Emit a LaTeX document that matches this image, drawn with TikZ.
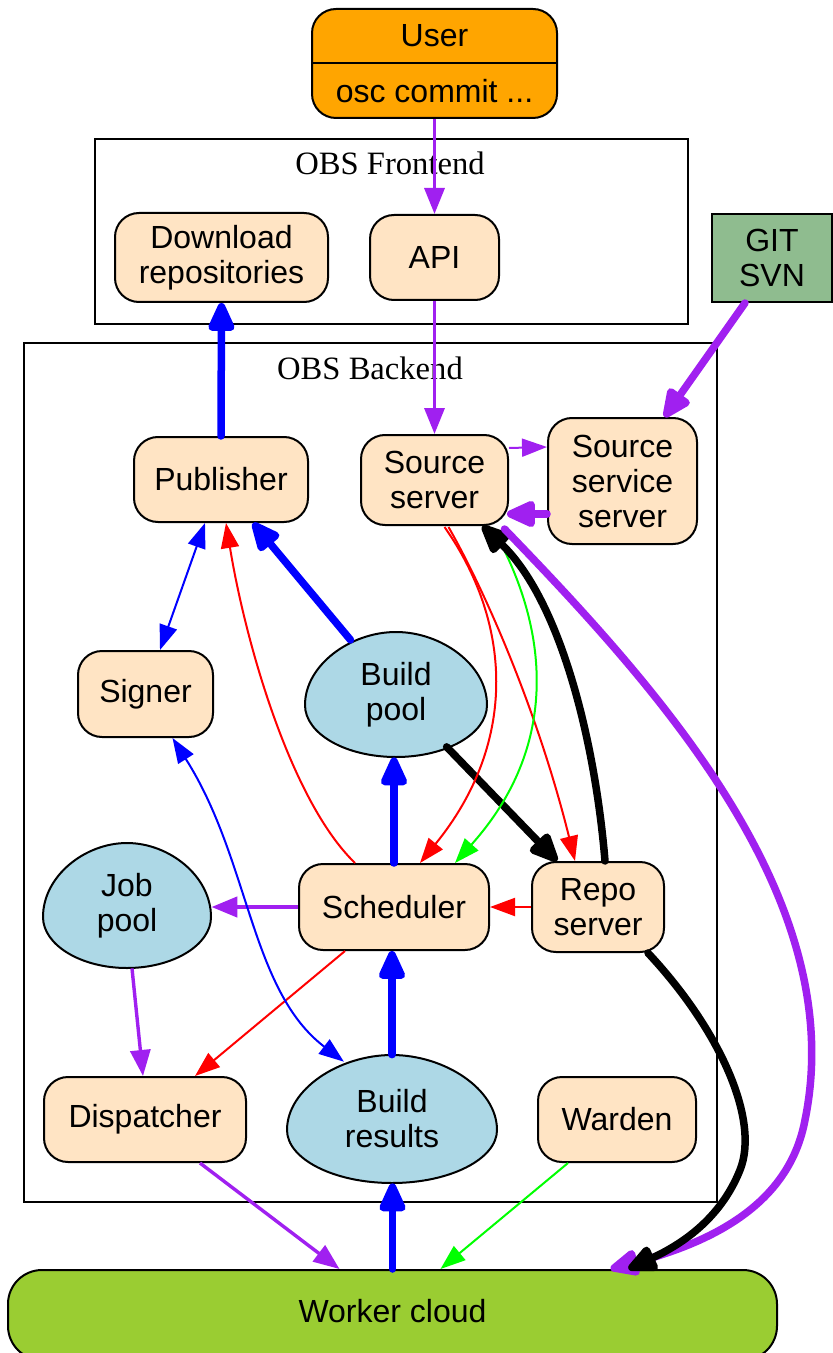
\documentclass[tikz,border=0pt]{standalone}
\usepackage{fontspec}
\setmainfont{Liberation Sans}
\newfontfamily\clusterfont{Liberation Serif}
\usetikzlibrary{arrows.meta,calc,shapes.geometric}
\definecolor{bisque}{HTML}{FFE4C4}
\definecolor{gvorange}{HTML}{FFA500}
\definecolor{gvsea}{HTML}{8FBC8F}
\definecolor{gvlblue}{HTML}{ADD8E6}
\definecolor{gvygreen}{HTML}{9ACD32}
\definecolor{gvpurple}{HTML}{A020F0}
\definecolor{gvblue}{HTML}{0000FF}
\definecolor{gvred}{HTML}{FF0000}
\definecolor{gvgreen}{HTML}{00FF00}
\begin{document}
\begin{tikzpicture}[x=0.5pt,y=-0.5pt,
  lbl/.style={font=\fontsize{16}{17.5}\selectfont, align=center, inner sep=0pt},
  box/.style={lbl, draw, line width=1pt, rounded corners=12pt, fill=bisque},
  eggnode/.style={lbl, ellipse, draw=none},
  eggfill/.style={draw, line width=1pt, fill=gvlblue},
  cluster/.style={draw, line width=0.9pt},
  clab/.style={font=\clusterfont\fontsize{16.3}{18}\selectfont, inner sep=0pt},
  thinE/.style={line width=1pt, -{Triangle[length=12.5pt,width=9pt]}},
  thinBoth/.style={line width=1pt, {Triangle[length=12.5pt,width=9pt]}-{Triangle[length=12.5pt,width=9pt]}},
  medE/.style={line width=1.7pt, -{Triangle[length=13pt,width=10pt]}},
  thickE/.style={line width=3.75pt, line cap=round, -{Triangle[length=17pt,width=14pt,round]}},
]
\useasboundingbox (0,0) rectangle (832,1353);

% clusters
\draw[cluster] (95,139) rectangle (688,324);
\node[clab] (felab) at (390,163) {OBS Frontend};
\draw[cluster] (24,343) rectangle (717,1202);
\node[clab] (belab) at (370,368) {OBS Backend};

% user
\node[box, fill=gvorange, minimum width=122.5pt, minimum height=54.5pt] (user) at (434.5,63.5) {};
\draw[line width=1pt] (user.west) -- (user.east);
\node[lbl] (usert) at (434.5,36) {User};
\node[lbl] (userb) at (434.5,91) {osc commit ...};

% frontend
\node[box, minimum width=106.5pt, minimum height=44.5pt] (dl) at (221.5,257.5) {Download\\repositories};
\node[box, minimum width=64.5pt, minimum height=42.5pt] (api) at (434.5,257.5) {API};
\node[lbl, draw, line width=1pt, fill=gvsea, minimum width=60pt, minimum height=44pt] (git) at (772,258) {GIT\\SVN};

% backend boxes
\node[box, minimum width=87pt, minimum height=42.5pt] (pub) at (221,479.5) {Publisher};
\node[box, minimum width=73.5pt, minimum height=45pt] (src) at (434.5,480) {Source\\server};
\node[box, minimum width=74.5pt, minimum height=63pt] (sss) at (622.5,481) {Source\\service\\server};
\node[box, minimum width=67.5pt, minimum height=43pt] (signer) at (145.5,694) {Signer};
\node[box, minimum width=95pt, minimum height=43pt] (sched) at (394,907) {Scheduler};
\node[box, minimum width=66pt, minimum height=45pt] (repo) at (598,907) {Repo\\server};
\node[box, minimum width=101pt, minimum height=42.5pt] (disp) at (145,1119.5) {Dispatcher};
\node[box, minimum width=79pt, minimum height=42.5pt] (warden) at (617,1119.5) {Warden};

% eggs
\path[eggfill] (396,632) .. controls (441.5,632) and (487,665) .. (487,705)
  .. controls (487,734) and (446,757) .. (396,757)
  .. controls (346,757) and (305,734) .. (305,705)
  .. controls (305,665) and (350.5,632) .. (396,632) -- cycle;
\node[eggnode, minimum width=91pt, minimum height=62.5pt] (bpool) at (396,694.5) {Build\\pool};

\path[eggfill] (127,843) .. controls (169,843) and (211,876) .. (211,917)
  .. controls (211,945) and (173,968) .. (127,968)
  .. controls (81,968) and (43,945) .. (43,917)
  .. controls (43,876) and (85,843) .. (127,843) -- cycle;
\node[eggnode, minimum width=84pt, minimum height=62.5pt] (jpool) at (127,905.5) {Job\\pool};

\path[eggfill] (392,1055) .. controls (444.5,1055) and (497,1089) .. (497,1130)
  .. controls (497,1159) and (450,1183) .. (392,1183)
  .. controls (334,1183) and (287,1159) .. (287,1130)
  .. controls (287,1089) and (339.5,1055) .. (392,1055) -- cycle;
\node[eggnode, minimum width=105pt, minimum height=64pt] (bres) at (392,1119) {Build\\results};

% worker cloud
\node[box, fill=gvygreen, rounded corners=17pt, minimum width=384.5pt, minimum height=45pt, text depth=4pt] (worker) at (392.5,1315) {Worker cloud};

% edges
\draw[medE, gvpurple] (user.south) -- (api.north);
\draw[medE, gvpurple] (api.south) -- (src.north);
\draw[thickE, gvpurple] ($(git.south)+(-27,0)$) -- ($(sss.north)+(42,0)$);
\draw[thinE, gvpurple] ($(src.east)+(0,-32)$) -- ($(sss.west)+(0,-34)$);
\draw[thickE, gvpurple] ($(sss.west)+(0,33)$) -- ($(src.east)+(-2,34)$);

\draw[thickE, gvblue] (pub.north) -- (dl.south);
\draw[thinBoth, gvblue] ($(signer.north)+(14.5,0)$) -- ($(pub.south)+(-16,0)$);
\draw[thickE, gvblue] (bpool) -- ($(pub.south)+(32,0)$);
\draw[thinE, gvred] ($(sched.north)+(-39,0)$) .. controls (290,800) and (245,640) .. ($(pub.south)+(5,0)$);
\draw[thickE, gvblue] (sched.north) -- (sched.north |- bpool.south);
\draw[thickE, black] (bpool) -- ($(repo.north)+(-41,0)$);

\draw[thinE, gvred] ($(src.south)+(10,1)$) .. controls (510,620) and (520,740) .. ($(sched.north)+(26,0)$);
\draw[thinE, gvred] ($(src.south)+(14,1)$) .. controls (490,600) and (540,720) .. ($(repo.north)+(-23,0)$);
\draw[thinE, gvgreen] ($(src.south)+(58,2)$) .. controls (545,620) and (565,740) .. ($(sched.north)+(61,0)$);
\draw[thickE, black] ($(repo.north)+(7,0)$) .. controls (595,740) and (560,600) .. ($(src.south)+(48,0)$);
\draw[thickE, gvpurple] ($(src.south)+(70,3)$) .. controls (660,690) and (850,900) .. (805,1120)
  .. controls (790,1200) and (720,1240) .. ($(worker.north)+(218,0)$);
\draw[thickE, black] ($(repo.south)+(50,0)$) .. controls (720,1030) and (760,1120) .. (740,1170)
  .. controls (720,1220) and (680,1245) .. ($(worker.north)+(236,0)$);
\draw[thinE, gvred] (repo.west) -- (sched.east);

\draw[medE, gvpurple, line width=2.2pt] (sched.west) -- (sched.west -| jpool.east);
\draw[medE, gvpurple] ($(jpool.south)+(5,0)$) -- ($(disp.north)+(-2,0)$);
\draw[thinE, gvred] ($(sched.south)+(-49,0)$) -- ($(disp.north)+(50,0)$);
\draw[thinBoth, gvblue] ($(signer.south)+(27,0)$) .. controls (250,860) and (250,990) .. (bres.130);
\draw[thickE, gvblue] (bres.north) -- (bres.north |- sched.south);
\draw[medE, gvpurple] ($(disp.south)+(55,0)$) -- ($(worker.north)+(-53,0)$);
\draw[thickE, gvblue] (worker.north) -- (worker.north |- bres.south);
\draw[thinE, gvgreen] ($(warden.south)+(-49,0)$) -- ($(worker.north)+(48,0)$);
\end{tikzpicture}
\end{document}
